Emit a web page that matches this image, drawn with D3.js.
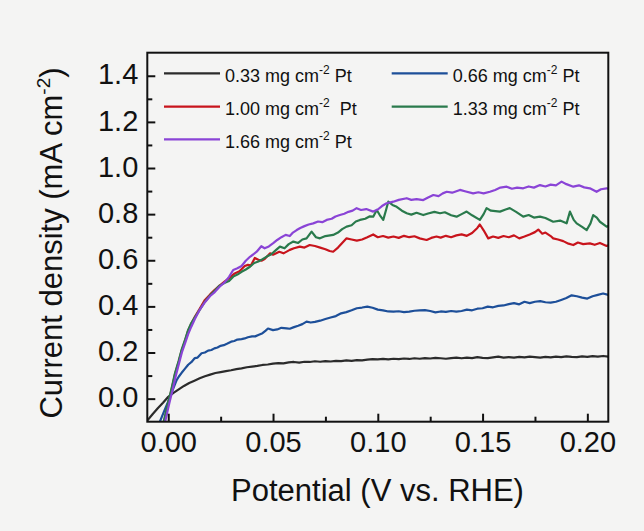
<!DOCTYPE html>
<html><head><meta charset="utf-8">
<script src="https://cdn.jsdelivr.net/npm/d3@7"></script>
<style>
body{margin:0;background:#f4f4f3;}
svg{display:block;}
text{font-family:"Liberation Sans",Arial,sans-serif;fill:#111;}
</style></head>
<body><svg id="chart" width="644" height="531"></svg>
<script>
const seriesNames = ["0.33 mg cm", "0.66 mg cm", "1.00 mg cm", "1.33 mg cm", "1.66 mg cm"];
const seriesSuffix = [" Pt", " Pt", "  Pt", " Pt", " Pt"];
const seriesColors = ["#2b2b2b", "#1d4f99", "#c8141c", "#2a7a4c", "#8a44d6"];
const xTicks = [0.00, 0.05, 0.10, 0.15, 0.20];
const xMinor = [0.025, 0.075, 0.125, 0.175];
const yTicks = [0.0, 0.2, 0.4, 0.6, 0.8, 1.0, 1.2, 1.4];
const yMinor = [0.1, 0.3, 0.5, 0.7, 0.9, 1.1, 1.3];

const pt033 = [[-0.01,-0.095],[-0.0075,-0.068],[-0.005,-0.042],[-0.0025,-0.018],[0,0.008],[0.0025,0.025],[0.005,0.04],[0.0075,0.055],[0.01,0.068],[0.0125,0.078],[0.015,0.088],[0.0175,0.097],[0.02,0.104],[0.0225,0.111],[0.025,0.115],[0.0275,0.119],[0.03,0.123],[0.0325,0.128],[0.035,0.131],[0.0375,0.136],[0.04,0.139],[0.0425,0.142],[0.045,0.146],[0.0475,0.148],[0.05,0.152],[0.0525,0.154],[0.055,0.153],[0.0575,0.157],[0.06,0.159],[0.0625,0.156],[0.065,0.160],[0.0675,0.159],[0.07,0.162],[0.0725,0.160],[0.075,0.163],[0.0775,0.161],[0.08,0.164],[0.0825,0.163],[0.085,0.166],[0.0875,0.164],[0.09,0.167],[0.0925,0.166],[0.095,0.169],[0.0975,0.171],[0.1,0.170],[0.1025,0.172],[0.105,0.170],[0.1075,0.173],[0.11,0.171],[0.1125,0.174],[0.115,0.172],[0.1175,0.175],[0.12,0.173],[0.1225,0.176],[0.125,0.174],[0.1275,0.177],[0.13,0.175],[0.1325,0.173],[0.135,0.176],[0.1375,0.178],[0.14,0.175],[0.1425,0.178],[0.145,0.176],[0.1475,0.180],[0.15,0.177],[0.1525,0.176],[0.155,0.179],[0.1575,0.182],[0.16,0.178],[0.1625,0.180],[0.165,0.178],[0.1675,0.181],[0.17,0.179],[0.1725,0.182],[0.175,0.180],[0.1775,0.178],[0.18,0.181],[0.1825,0.179],[0.185,0.182],[0.1875,0.180],[0.19,0.183],[0.1925,0.181],[0.195,0.180],[0.1975,0.183],[0.2,0.181],[0.2025,0.184],[0.205,0.182],[0.2075,0.185],[0.21,0.182]];

const pt066 = [[-0.004,-0.1],[-0.002,-0.055],[0,-0.012],[0.002,0.035],[0.004,0.08],[0.005,0.095],[0.0063,0.111],[0.008,0.13],[0.0095,0.147],[0.011,0.158],[0.0127,0.176],[0.014,0.178],[0.0159,0.197],[0.0175,0.2],[0.019,0.208],[0.0206,0.211],[0.022,0.218],[0.0235,0.222],[0.025,0.229],[0.0265,0.232],[0.028,0.238],[0.03,0.247],[0.0315,0.25],[0.033,0.256],[0.035,0.258],[0.0365,0.261],[0.038,0.266],[0.04,0.27],[0.0415,0.27],[0.043,0.276],[0.045,0.284],[0.0465,0.295],[0.0476,0.304],[0.05,0.297],[0.052,0.3],[0.054,0.307],[0.0565,0.305],[0.058,0.303],[0.06,0.31],[0.062,0.316],[0.064,0.323],[0.066,0.334],[0.068,0.33],[0.07,0.333],[0.0725,0.338],[0.075,0.345],[0.0775,0.352],[0.08,0.358],[0.0825,0.37],[0.085,0.375],[0.0875,0.383],[0.09,0.392],[0.0925,0.395],[0.095,0.399],[0.0975,0.394],[0.1,0.386],[0.1025,0.383],[0.105,0.378],[0.1075,0.377],[0.11,0.379],[0.1125,0.375],[0.115,0.377],[0.1175,0.381],[0.12,0.383],[0.1225,0.384],[0.125,0.38],[0.1275,0.374],[0.13,0.378],[0.1325,0.376],[0.135,0.38],[0.1375,0.377],[0.14,0.38],[0.1425,0.386],[0.145,0.383],[0.1475,0.39],[0.15,0.392],[0.1525,0.399],[0.155,0.396],[0.1575,0.402],[0.16,0.404],[0.1625,0.41],[0.165,0.414],[0.1675,0.409],[0.17,0.42],[0.1725,0.414],[0.175,0.42],[0.1775,0.423],[0.18,0.418],[0.1825,0.416],[0.185,0.42],[0.1875,0.428],[0.19,0.436],[0.1925,0.448],[0.195,0.444],[0.1975,0.438],[0.2,0.434],[0.2025,0.444],[0.205,0.45],[0.2075,0.456],[0.21,0.45]];

const pt100 = [[-0.002,-0.1],[0,-0.02],[0.0016,0.04],[0.0032,0.105],[0.005,0.16],[0.0063,0.205],[0.008,0.25],[0.0095,0.295],[0.011,0.325],[0.0127,0.355],[0.015,0.39],[0.0175,0.428],[0.02,0.452],[0.0222,0.472],[0.0245,0.49],[0.027,0.508],[0.029,0.522],[0.0317,0.543],[0.034,0.552],[0.0365,0.575],[0.038,0.58],[0.0395,0.578],[0.0413,0.61],[0.043,0.602],[0.0445,0.598],[0.046,0.605],[0.0486,0.63],[0.05,0.624],[0.053,0.637],[0.055,0.63],[0.058,0.645],[0.06,0.652],[0.0628,0.659],[0.065,0.655],[0.0675,0.666],[0.07,0.662],[0.0725,0.655],[0.075,0.648],[0.077,0.64],[0.0787,0.637],[0.081,0.655],[0.083,0.675],[0.0851,0.695],[0.0875,0.69],[0.09,0.685],[0.0925,0.69],[0.095,0.7],[0.0978,0.712],[0.1,0.7],[0.1025,0.705],[0.105,0.698],[0.1075,0.703],[0.11,0.697],[0.1125,0.706],[0.115,0.7],[0.1175,0.704],[0.12,0.695],[0.1233,0.688],[0.1255,0.697],[0.128,0.703],[0.13,0.698],[0.1325,0.706],[0.135,0.7],[0.1375,0.708],[0.14,0.712],[0.1425,0.706],[0.145,0.718],[0.1475,0.74],[0.1487,0.755],[0.1505,0.73],[0.1527,0.695],[0.155,0.703],[0.1575,0.697],[0.16,0.705],[0.1625,0.7],[0.165,0.708],[0.1675,0.695],[0.17,0.703],[0.1725,0.712],[0.175,0.722],[0.1766,0.733],[0.1785,0.715],[0.18,0.72],[0.1825,0.705],[0.1837,0.695],[0.186,0.69],[0.1885,0.683],[0.191,0.672],[0.1933,0.666],[0.1955,0.677],[0.198,0.67],[0.2012,0.673],[0.2035,0.667],[0.206,0.675],[0.2092,0.662],[0.21,0.665]];

const pt133 = [[-0.0022,-0.1],[0,-0.015],[0.0016,0.045],[0.0032,0.11],[0.005,0.165],[0.0063,0.21],[0.008,0.255],[0.0095,0.298],[0.011,0.328],[0.0127,0.352],[0.015,0.385],[0.0175,0.42],[0.02,0.448],[0.0222,0.468],[0.0245,0.49],[0.027,0.502],[0.029,0.51],[0.031,0.529],[0.033,0.538],[0.035,0.55],[0.037,0.56],[0.039,0.572],[0.041,0.588],[0.043,0.595],[0.045,0.605],[0.047,0.616],[0.049,0.625],[0.0515,0.645],[0.0533,0.659],[0.0555,0.652],[0.0575,0.67],[0.0597,0.681],[0.062,0.675],[0.064,0.69],[0.066,0.695],[0.0684,0.724],[0.0705,0.7],[0.0724,0.695],[0.075,0.705],[0.0787,0.71],[0.081,0.72],[0.083,0.735],[0.0851,0.746],[0.0875,0.752],[0.0895,0.768],[0.0915,0.775],[0.094,0.78],[0.096,0.79],[0.0978,0.789],[0.0995,0.818],[0.101,0.795],[0.1026,0.775],[0.104,0.82],[0.105,0.854],[0.107,0.84],[0.109,0.832],[0.1115,0.815],[0.1138,0.804],[0.116,0.798],[0.1185,0.806],[0.1217,0.796],[0.124,0.803],[0.127,0.81],[0.1297,0.804],[0.132,0.808],[0.135,0.795],[0.1376,0.789],[0.14,0.8],[0.1424,0.811],[0.145,0.795],[0.1487,0.775],[0.1505,0.8],[0.1519,0.826],[0.154,0.815],[0.1583,0.811],[0.161,0.82],[0.163,0.826],[0.166,0.81],[0.1694,0.789],[0.172,0.796],[0.1745,0.785],[0.1774,0.789],[0.18,0.783],[0.1837,0.767],[0.187,0.772],[0.1901,0.76],[0.1917,0.811],[0.1935,0.775],[0.1949,0.76],[0.1975,0.745],[0.1997,0.731],[0.2015,0.76],[0.2028,0.796],[0.2045,0.785],[0.206,0.767],[0.2092,0.746],[0.21,0.748]];

const pt166 = [[-0.0015,-0.1],[0.0005,-0.02],[0.002,0.035],[0.0035,0.095],[0.005,0.148],[0.0065,0.2],[0.008,0.24],[0.0095,0.28],[0.011,0.312],[0.0127,0.345],[0.015,0.385],[0.0175,0.418],[0.02,0.445],[0.0222,0.462],[0.0245,0.485],[0.027,0.505],[0.029,0.528],[0.031,0.558],[0.033,0.565],[0.035,0.575],[0.037,0.598],[0.039,0.615],[0.0405,0.625],[0.0422,0.637],[0.0444,0.661],[0.046,0.652],[0.048,0.66],[0.0501,0.674],[0.052,0.688],[0.054,0.7],[0.056,0.71],[0.058,0.705],[0.0595,0.72],[0.0613,0.731],[0.063,0.74],[0.065,0.748],[0.067,0.755],[0.0692,0.76],[0.0715,0.768],[0.0735,0.765],[0.0756,0.775],[0.078,0.78],[0.0798,0.79],[0.0819,0.796],[0.084,0.802],[0.086,0.81],[0.088,0.815],[0.0899,0.826],[0.092,0.818],[0.0945,0.822],[0.0978,0.811],[0.1,0.82],[0.102,0.835],[0.1042,0.847],[0.1074,0.854],[0.11,0.862],[0.1138,0.869],[0.116,0.862],[0.1185,0.865],[0.1217,0.861],[0.124,0.872],[0.1265,0.883],[0.129,0.878],[0.131,0.89],[0.1329,0.897],[0.1355,0.893],[0.1392,0.905],[0.142,0.898],[0.1455,0.89],[0.148,0.895],[0.1505,0.89],[0.1535,0.897],[0.156,0.905],[0.1585,0.915],[0.1615,0.919],[0.164,0.91],[0.1665,0.915],[0.1694,0.912],[0.172,0.92],[0.1745,0.915],[0.1774,0.926],[0.18,0.92],[0.1825,0.928],[0.185,0.925],[0.1877,0.941],[0.19,0.93],[0.1933,0.919],[0.196,0.925],[0.1985,0.916],[0.2012,0.912],[0.2044,0.897],[0.2065,0.908],[0.2092,0.912],[0.21,0.91]];

const seriesData = [pt033, pt066, pt100, pt133, pt166];

const svg = d3.select("#chart");
const L = 147.3, R = 608.3, T = 52.7, B = 421.7;
const x = d3.scaleLinear().domain([-0.01, 0.21]).range([L, R]);
const y = d3.scaleLinear().domain([-0.1, 1.5]).range([B, T]);

svg.append("rect").attr("width",644).attr("height",531).attr("fill","#f4f4f3");

svg.append("clipPath").attr("id","clip").append("rect")
  .attr("x",L).attr("y",T).attr("width",R-L).attr("height",B-T);

const line = d3.line().x(d=>x(d[0])).y(d=>y(d[1]));
const g = svg.append("g").attr("clip-path","url(#clip)");
seriesData.forEach((s,i)=>{
  g.append("path").datum(s).attr("d",line).attr("fill","none")
   .attr("stroke",seriesColors[i]).attr("stroke-width",2.2).attr("stroke-linejoin","round");
});

// axes
const xAx = svg.append("g").attr("transform",`translate(0,${B})`)
  .call(d3.axisBottom(x).tickValues(xTicks).tickFormat(d3.format(".2f")).tickSize(-8).tickPadding(10));
const xAxMin = svg.append("g").attr("transform",`translate(0,${B})`)
  .call(d3.axisBottom(x).tickValues(xMinor).tickFormat("").tickSize(-5));
const yAx = svg.append("g").attr("transform",`translate(${L},0)`)
  .call(d3.axisLeft(y).tickValues(yTicks).tickFormat(d3.format(".1f")).tickSize(-8).tickPadding(9));
const yAxMin = svg.append("g").attr("transform",`translate(${L},0)`)
  .call(d3.axisLeft(y).tickValues(yMinor).tickFormat("").tickSize(-5));
[xAx,xAxMin,yAx,yAxMin].forEach(a=>{
  a.select(".domain").remove();
  a.selectAll("line").attr("stroke","#111").attr("stroke-width",2);
  a.selectAll("text").attr("font-size",29).attr("font-family","Liberation Sans, Arial, sans-serif").attr("fill","#111");
});
yAx.selectAll("text").attr("dy","0.28em");

svg.append("rect").attr("x",L).attr("y",T).attr("width",R-L).attr("height",B-T)
  .attr("fill","none").attr("stroke","#111").attr("stroke-width",2);

// titles
svg.append("text").attr("x",377.5).attr("y",501).attr("text-anchor","middle")
  .attr("font-size",31).text("Potential (V vs. RHE)");
const yt = svg.append("text").attr("transform","translate(62,243) rotate(-90)")
  .attr("text-anchor","middle").attr("font-size",31);
yt.append("tspan").text("Current density (mA cm");
yt.append("tspan").attr("font-size",19).attr("dy",-12).text("-2");
yt.append("tspan").attr("dy",12).text(")");

// legend
const legPos = [[164,73.3],[391.7,73.3],[164,106.7],[391.7,106.7],[164,139.3]];
seriesNames.forEach((n,i)=>{
  const [lx,ly] = legPos[i];
  svg.append("line").attr("x1",lx).attr("x2",lx+56).attr("y1",ly).attr("y2",ly)
    .attr("stroke",seriesColors[i]).attr("stroke-width",2.2);
  const t = svg.append("text").attr("x",lx+61).attr("y",ly+8.5).attr("font-size",18)
    .attr("xml:space","preserve").style("white-space","pre");
  t.append("tspan").text(n);
  t.append("tspan").attr("font-size",12).attr("dy",-8).text("-2");
  t.append("tspan").attr("dy",8).text(seriesSuffix[i]);
});
</script></body></html>
